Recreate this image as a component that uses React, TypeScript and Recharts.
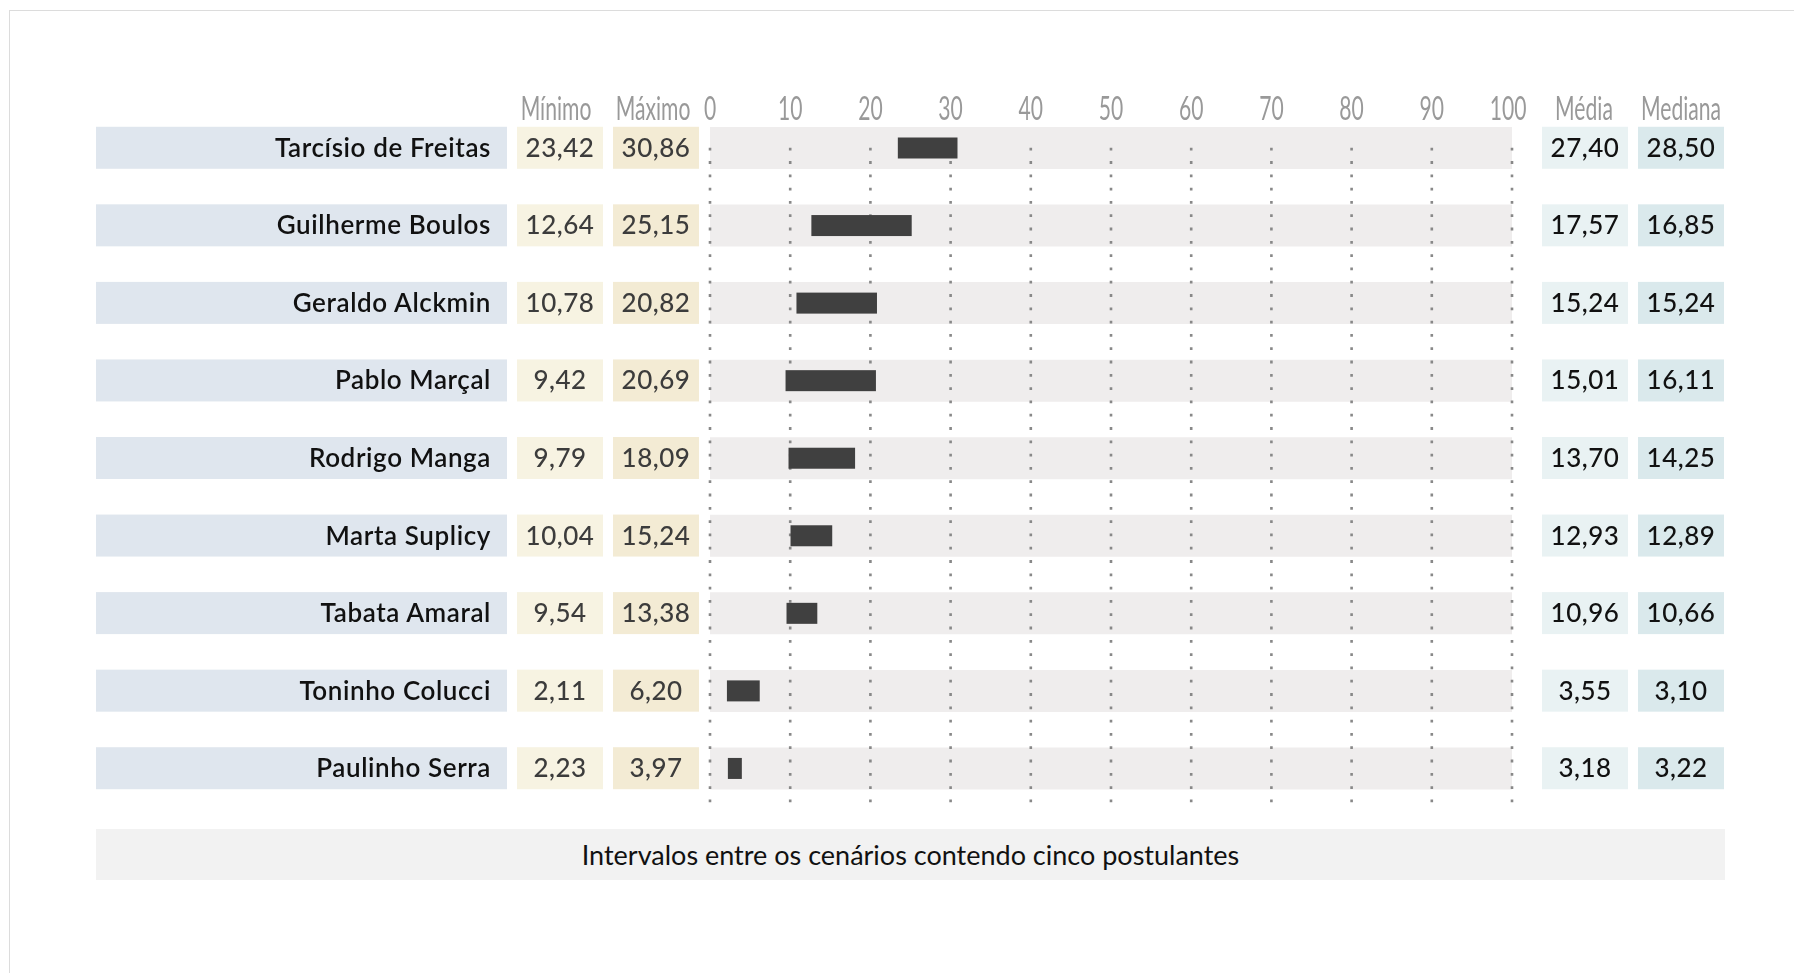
import React from 'react';
import { ComposedChart, Bar, XAxis, YAxis, ReferenceLine } from 'recharts';

// candidatos e intervalos (cenários com cinco postulantes)
const names = [
  'Tarcísio de Freitas',
  'Guilherme Boulos',
  'Geraldo Alckmin',
  'Pablo Marçal',
  'Rodrigo Manga',
  'Marta Suplicy',
  'Tabata Amaral',
  'Toninho Colucci',
  'Paulinho Serra',
];
const minimo = [23.42, 12.64, 10.78, 9.42, 9.79, 10.04, 9.54, 2.11, 2.23];
const maximo = [30.86, 25.15, 20.82, 20.69, 18.09, 15.24, 13.38, 6.2, 3.97];
const media = [27.4, 17.57, 15.24, 15.01, 13.7, 12.93, 10.96, 3.55, 3.18];
const mediana = [28.5, 16.85, 15.24, 16.11, 14.25, 12.89, 10.66, 3.1, 3.22];
const xTicks = [0, 10, 20, 30, 40, 50, 60, 70, 80, 90, 100];

const data = names.map((name, i) => ({
  name,
  min: minimo[i],
  max: maximo[i],
  span: +(maximo[i] - minimo[i]).toFixed(2),
  media: media[i],
  mediana: mediana[i],
}));

const fmt = (v: number) => v.toFixed(2).replace('.', ',');

const FONT = 'Lato, "Open Sans", sans-serif';
const HEAD_COLOR = '#999999';

const Header = ({ cx, y, text }: { cx: number; y: number; text: string }) => (
  <text
    transform={`translate(${cx} ${y}) scale(0.66 1)`}
    textAnchor="middle"
    fontFamily={FONT}
    fontWeight={400}
    fontSize={32}
    fill={HEAD_COLOR}
  >
    {text}
  </text>
);

const Cell = ({ x, y, w, fill, text, color, weight }: any) => (
  <g>
    <rect x={x} y={y - 21} width={w} height={42} fill={fill} />
    <text
      x={x + w / 2}
      y={y + 9}
      textAnchor="middle"
      fontFamily={FONT}
      fontWeight={weight}
      fontSize={26}
      letterSpacing={0.5}
      fill={color}
    >
      {text}
    </text>
  </g>
);

const LeftTick = (props: any) => {
  const { x, y, payload } = props;
  const i = payload.index;
  return (
    <g>
      {i === 0 && (
        <>
          <Header cx={x - 154} y={y - 28} text="Mínimo" />
          <Header cx={x - 57} y={y - 28} text="Máximo" />
        </>
      )}
      <rect x={x - 614} y={y - 21} width={411} height={42} fill="#dfe6ee" />
      <text
        x={x - 219}
        y={y + 9}
        textAnchor="end"
        fontFamily={FONT}
        fontWeight={600}
        fontSize={26}
        letterSpacing={0.6}
        fill="#111"
      >
        {payload.value}
      </text>
      <Cell x={x - 193} y={y} w={86} fill="#f7f3e2" text={fmt(minimo[i])} color="#3c3c3c" weight={500} />
      <Cell x={x - 97} y={y} w={86} fill="#f3ebd4" text={fmt(maximo[i])} color="#3c3c3c" weight={500} />
    </g>
  );
};

const RightTick = (props: any) => {
  const { x, y, payload } = props;
  const i = payload.index;
  return (
    <g>
      {i === 0 && (
        <>
          <Header cx={x + 72} y={y - 28} text="Média" />
          <Header cx={x + 169} y={y - 28} text="Mediana" />
        </>
      )}
      <Cell x={x + 30} y={y} w={86} fill="#e9f2f3" text={fmt(media[i])} color="#111" weight={500} />
      <Cell x={x + 126} y={y} w={86} fill="#dae9ec" text={fmt(mediana[i])} color="#111" weight={500} />
    </g>
  );
};

const TopTick = (props: any) => {
  const { x, y, payload } = props;
  return <Header cx={payload.value === 100 ? x - 4 : x} y={y + 11} text={String(payload.value)} />;
};

const InsetBar = (props: any) => {
  const { x, y, width, height, fill } = props;
  if (width == null || height == null) return null;
  return <rect x={x} y={y + height / 4} width={width} height={height / 2} fill={fill} />;
};

const DottedLine = (props: any) => {
  const { x1, y1, x2, y2 } = props;
  const ext = (y2 - y1) / (names.length - 1) / 2;
  return (
    <line
      x1={x1}
      y1={y1}
      x2={x2}
      y2={y2 + ext}
      stroke="#888888"
      strokeWidth={2.6}
      strokeDasharray="2.8 10.5"
    />
  );
};

export default function App() {
  return (
    <div style={{ position: 'relative', width: 1780, height: 900 }}>
      <div
        style={{
          position: 'fixed',
          left: 9,
          top: 10,
          right: -10,
          bottom: -10,
          borderLeft: '1px solid #dcdcdc',
          borderTop: '1px solid #dcdcdc',
          pointerEvents: 'none',
        }}
      />
      <ComposedChart
        layout="vertical"
        width={1780}
        height={900}
        data={data}
        margin={{ top: 0, right: 0, bottom: 101, left: 0 }}
      >
        <XAxis
          type="number"
          orientation="top"
          domain={[0, 100]}
          ticks={xTicks}
          height={101}
          axisLine={false}
          tickLine={false}
          tickSize={0}
          tickMargin={0}
          interval={0}
          tick={TopTick}
        />
        <YAxis
          type="category"
          dataKey="name"
          width={702}
          axisLine={false}
          tickLine={false}
          tickSize={0}
          tickMargin={0}
          interval={0}
          tick={LeftTick}
        />
        <YAxis
          yAxisId="r"
          type="category"
          dataKey="name"
          orientation="right"
          width={276}
          axisLine={false}
          tickLine={false}
          tickSize={0}
          tickMargin={0}
          interval={0}
          tick={RightTick}
        />
        <Bar
          dataKey="min"
          stackId="r"
          fill="none"
          barSize={42}
          background={{ fill: '#efeded' }}
          isAnimationActive={false}
        />
        {xTicks.map((v) => (
          <ReferenceLine
            key={v}
            segment={[
              { x: v, y: names[0] },
              { x: v, y: names[names.length - 1] },
            ]}
            zIndex={500}
            shape={DottedLine}
          />
        ))}
        <Bar
          dataKey="span"
          stackId="r"
          fill="#404040"
          barSize={42}
          shape={InsetBar}
          zIndex={1000}
          isAnimationActive={false}
        />
      </ComposedChart>
      <div
        style={{
          position: 'absolute',
          left: 88,
          top: 821,
          width: 1629,
          height: 51,
          background: '#f2f2f2',
          display: 'flex',
          alignItems: 'center',
          justifyContent: 'center',
          fontFamily: FONT,
          fontSize: 27,
          color: '#111',
        }}
      >
        Intervalos entre os cenários contendo cinco postulantes
      </div>
    </div>
  );
}
